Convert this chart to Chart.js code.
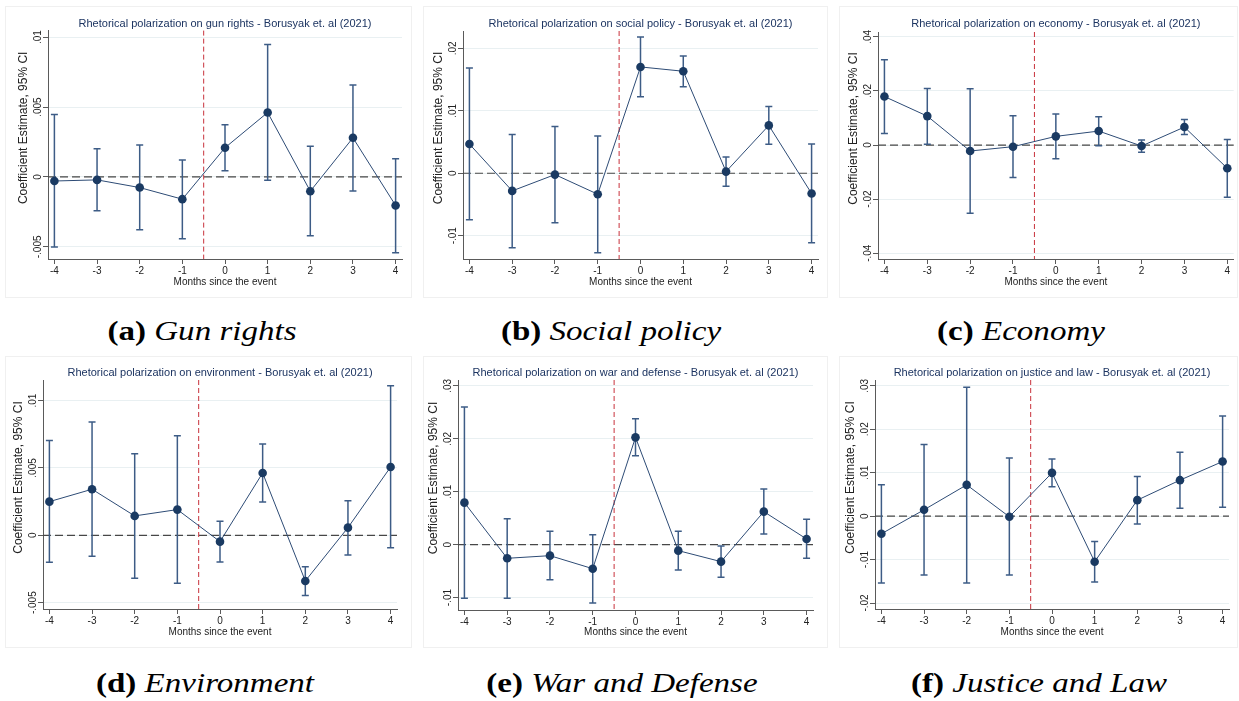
<!DOCTYPE html>
<html>
<head>
<meta charset="utf-8">
<script src="https://cdn.jsdelivr.net/npm/chart.js@4.4.1/dist/chart.umd.min.js"></script>
<style>
  body { margin: 0; background: #fff; width: 1239px; height: 701px; position: relative; overflow: hidden; }
  .panel { position: absolute; outline: 1px solid #f0f0f0; outline-offset: -1px; }
  .panel canvas { display: block; }
  .cap { position: absolute; transform: translate(-50%, -50%) scaleX(1.18); white-space: nowrap;
         font-family: "Liberation Serif", "Times New Roman", serif; font-size: 28px; color: #000; }
  .cap b { font-weight: bold; margin-right: 7px; }
  .cap i { font-style: italic; }
</style>
</head>
<body>
<div class="cap" style="left:202px;top:331px"><b>(a)</b><i>Gun rights</i></div>
<div class="cap" style="left:611px;top:331px"><b>(b)</b><i>Social policy</i></div>
<div class="cap" style="left:1021px;top:331px"><b>(c)</b><i>Economy</i></div>
<div class="cap" style="left:205px;top:683px"><b>(d)</b><i>Environment</i></div>
<div class="cap" style="left:622px;top:683px"><b>(e)</b><i>War and Defense</i></div>
<div class="cap" style="left:1039px;top:683px"><b>(f)</b><i>Justice and Law</i></div>

<script>
// event-study months
const months = [-4, -3, -2, -1, 0, 1, 2, 3, 4];

// gun rights
const gunEst = [-0.00029, -0.00021, -0.00076, -0.00159, 0.00209, 0.00461, -0.00102, 0.0028, -0.00204];
const gunLo  = [-0.00501, -0.00242, -0.00378, -0.00442, 0.00045, -0.00024, -0.00421, -0.001, -0.00542];
const gunHi  = [0.00447, 0.00202, 0.00228, 0.00121, 0.00373, 0.00948, 0.00219, 0.00658, 0.00131];
const gunTicks = [-0.005, 0, 0.005, 0.01];

// social policy
const socEst = [0.00468, -0.00282, -0.00021, -0.00335, 0.01702, 0.01633, 0.00027, 0.00766, -0.00324];
const socLo  = [-0.00745, -0.01191, -0.00793, -0.01271, 0.01223, 0.01383, -0.00207, 0.00463, -0.01112];
const socHi  = [0.01686, 0.00622, 0.0075, 0.00596, 0.02181, 0.01878, 0.0026, 0.01069, 0.00468];
const socTicks = [-0.01, 0, 0.01, 0.02];

// economy
const ecoEst = [0.01794, 0.01069, -0.00221, -0.00061, 0.0032, 0.00516, -0.00037, 0.00664, -0.0086];
const ecoLo  = [0.0043, 0.00025, -0.02519, -0.01204, -0.00504, -0.00025, -0.0027, 0.00393, -0.01929];
const ecoHi  = [0.03158, 0.02089, 0.02077, 0.01081, 0.01143, 0.01044, 0.00184, 0.00946, 0.00209];
const ecoTicks = [-0.04, -0.02, 0, 0.02, 0.04];

// environment
const envEst = [0.0025, 0.00342, 0.00144, 0.00191, -0.00047, 0.00463, -0.00339, 0.00057, 0.00507];
const envLo  = [-0.002, -0.00156, -0.00319, -0.00356, -0.00198, 0.00248, -0.00446, -0.00146, -0.00092];
const envHi  = [0.00703, 0.00842, 0.00606, 0.0074, 0.00104, 0.00678, -0.00233, 0.00257, 0.01111];
const envTicks = [-0.005, 0, 0.005, 0.01];

// war and defense
const warEst = [0.00794, -0.00258, -0.00208, -0.00454, 0.02028, -0.00113, -0.00321, 0.00624, 0.00107];
const warLo  = [-0.01014, -0.01014, -0.00661, -0.01102, 0.01682, -0.00479, -0.00617, 0.00202, -0.00258];
const warHi  = [0.02602, 0.00491, 0.00252, 0.00189, 0.02381, 0.00252, -0.00025, 0.01052, 0.00479];
const warTicks = [-0.01, 0, 0.01, 0.02, 0.03];

// justice and law
const jusEst = [-0.00406, 0.00146, 0.0072, -0.00015, 0.00996, -0.0105, 0.00368, 0.00828, 0.01257];
const jusLo  = [-0.0154, -0.01356, -0.0154, -0.01356, 0.00674, -0.01517, -0.00184, 0.00184, 0.00207];
const jusHi  = [0.0072, 0.01648, 0.02966, 0.01341, 0.01318, -0.00582, 0.00912, 0.01471, 0.02307];
const jusTicks = [-0.02, -0.01, 0, 0.01, 0.02, 0.03];

const SANS = '"Liberation Sans", Arial, Helvetica, sans-serif';
const NAVY = '#1c3461';
const AXIS = '#5a5a5a';
const Y_TITLE = 'Coefficient Estimate, 95% CI';

// Stata-style number format: .01, -.005, 0
function stataLabel(v) {
  if (Math.abs(v) < 1e-12) return '0';
  return String(+v.toFixed(6)).replace(/^(-?)0\./, '$1.');
}

// dashed reference lines + 95% CI caps, under the connected estimates
const eventStudyPlugin = {
  id: 'eventStudy',
  beforeDatasetsDraw(chart) {
    const { ctx, chartArea: a, scales: { x, y } } = chart;
    ctx.save();
    // y = 0
    const y0 = y.getPixelForValue(0);
    ctx.strokeStyle = '#474747';
    ctx.lineWidth = 1.2;
    ctx.setLineDash([8, 4]);
    ctx.beginPath(); ctx.moveTo(a.left, y0); ctx.lineTo(a.right, y0); ctx.stroke();
    // treatment at -0.5
    const xe = x.getPixelForValue(-0.5);
    ctx.strokeStyle = '#c8323c';
    ctx.lineWidth = 1;
    ctx.setLineDash([5, 3]);
    ctx.beginPath(); ctx.moveTo(xe, a.top); ctx.lineTo(xe, a.bottom); ctx.stroke();
    ctx.setLineDash([]);

    // confidence intervals
    const ds = chart.data.datasets[0];
    ctx.strokeStyle = '#3d5c86';
    ctx.lineWidth = 1.5;
    ds.ciLow.forEach((lo, i) => {
      const px = x.getPixelForValue(ds.data[i].x);
      const pl = y.getPixelForValue(lo);
      const ph = y.getPixelForValue(ds.ciHigh[i]);
      ctx.beginPath();
      ctx.moveTo(px, pl); ctx.lineTo(px, ph);
      ctx.moveTo(px - 3.5, pl); ctx.lineTo(px + 3.5, pl);
      ctx.moveTo(px - 3.5, ph); ctx.lineTo(px + 3.5, ph);
      ctx.stroke();
    });
    ctx.restore();
  },
  afterDraw(chart) {
    // vertical y tick labels and axis title, Stata style
    const { ctx, chartArea: a, scales: { y } } = chart;
    ctx.save();
    ctx.textAlign = 'center';
    ctx.textBaseline = 'middle';
    ctx.fillStyle = '#222';
    ctx.font = '10px ' + SANS;
    y.ticks.forEach(t => {
      ctx.save();
      ctx.translate(y.right - 10, y.getPixelForValue(t.value));
      ctx.rotate(-Math.PI / 2);
      ctx.fillText(stataLabel(t.value), 0, 0);
      ctx.restore();
    });
    ctx.font = '12px ' + SANS;
    ctx.translate(y.right - 24, (a.top + a.bottom) / 2 - 17);
    ctx.rotate(-Math.PI / 2);
    ctx.fillText(Y_TITLE, 0, 0);
    ctx.restore();
  }
};

// box = outer frame, plot = axes rectangle, both in page pixels
const panels = [
  { topic: 'gun rights', est: gunEst, lo: gunLo, hi: gunHi, ticks: gunTicks, range: [-0.00587, 0.01047],
    box: [5, 6, 412, 298], plot: [48, 30, 402, 259], titleY: 23 },
  { topic: 'social policy', est: socEst, lo: socLo, hi: socHi, ticks: socTicks, range: [-0.01372, 0.02277],
    box: [423, 6, 828, 298], plot: [463, 31, 818, 259], titleY: 23 },
  { topic: 'economy', est: ecoEst, lo: ecoLo, hi: ecoHi, ticks: ecoTicks, range: [-0.04215, 0.0418],
    box: [839, 6, 1238, 298], plot: [878, 32, 1234, 259], titleY: 23 },
  { topic: 'environment', est: envEst, lo: envLo, hi: envHi, ticks: envTicks, range: [-0.00547, 0.01153],
    box: [5, 356, 412, 648], plot: [43, 380, 397, 609], titleY: 372 },
  { topic: 'war and defense', est: warEst, lo: warLo, hi: warHi, ticks: warTicks, range: [-0.01235, 0.03112],
    box: [423, 356, 828, 648], plot: [458, 380, 813, 610], titleY: 372 },
  { topic: 'justice and law', est: jusEst, lo: jusLo, hi: jusHi, ticks: jusTicks, range: [-0.02138, 0.03134],
    box: [839, 356, 1238, 648], plot: [875, 380, 1229, 609], titleY: 372 }
];

function renderPanel(p) {
  const [bx0, by0, bx1, by1] = p.box;
  const [px0, py0, px1, py1] = p.plot;
  const wrap = document.createElement('div');
  wrap.className = 'panel';
  wrap.style.left = bx0 + 'px';
  wrap.style.top = by0 + 'px';
  const canvas = document.createElement('canvas');
  canvas.width = bx1 - bx0;
  canvas.height = by1 - by0;
  wrap.appendChild(canvas);
  document.body.appendChild(wrap);

  const L = px0 - bx0, T = py0 - by0, R = bx1 - px1, B = by1 - py1;
  const fs = 11, lh = fs * 1.2;
  const titleTop = p.titleY - by0 - lh / 2 + 1;

  new Chart(canvas.getContext('2d'), {
    type: 'line',
    data: {
      datasets: [{
        data: months.map((m, i) => ({ x: m, y: p.est[i] })),
        ciLow: p.lo,
        ciHigh: p.hi,
        borderColor: '#2d4b75',
        borderWidth: 1,
        pointRadius: 4.3,
        pointBackgroundColor: '#1a3a62',
        pointBorderWidth: 0,
        tension: 0
      }]
    },
    options: {
      responsive: false,
      animation: false,
      layout: { padding: { left: 0, top: 0, right: R, bottom: 0 } },
      plugins: {
        legend: { display: false },
        tooltip: { enabled: false },
        title: {
          display: true,
          fullSize: false,
          text: 'Rhetorical polarization on ' + p.topic + ' - Borusyak et. al (2021)',
          color: NAVY,
          font: { family: SANS, size: fs, weight: 'normal', lineHeight: 1.2 },
          padding: { top: titleTop, bottom: Math.max(0, T - titleTop - lh) }
        }
      },
      scales: {
        x: {
          type: 'linear',
          min: -4.15,
          max: 4.15,
          afterBuildTicks: s => { s.ticks = months.map(v => ({ value: v })); },
          afterFit: s => { s.height = B; },
          ticks: { color: '#222', font: { family: SANS, size: 10 }, padding: 1, maxRotation: 0,
                   callback: v => String(v) },
          grid: { drawOnChartArea: false, drawTicks: true, tickLength: 5, tickColor: AXIS },
          border: { display: true, color: AXIS, width: 1 },
          title: { display: true, text: 'Months since the event', color: '#222',
                   font: { family: SANS, size: 10 }, padding: { top: 0, bottom: 10 } }
        },
        y: {
          min: p.range[0],
          max: p.range[1],
          afterBuildTicks: s => { s.ticks = p.ticks.map(v => ({ value: v })); },
          afterFit: s => { s.width = L; },
          ticks: { display: false },
          grid: { color: '#e9f0f2', lineWidth: 1, drawTicks: true, tickLength: 5, tickColor: AXIS },
          border: { display: true, color: AXIS, width: 1 },
          title: { display: false }
        }
      }
    },
    plugins: [eventStudyPlugin]
  });
}

panels.forEach(renderPanel);
</script>
</body>
</html>
